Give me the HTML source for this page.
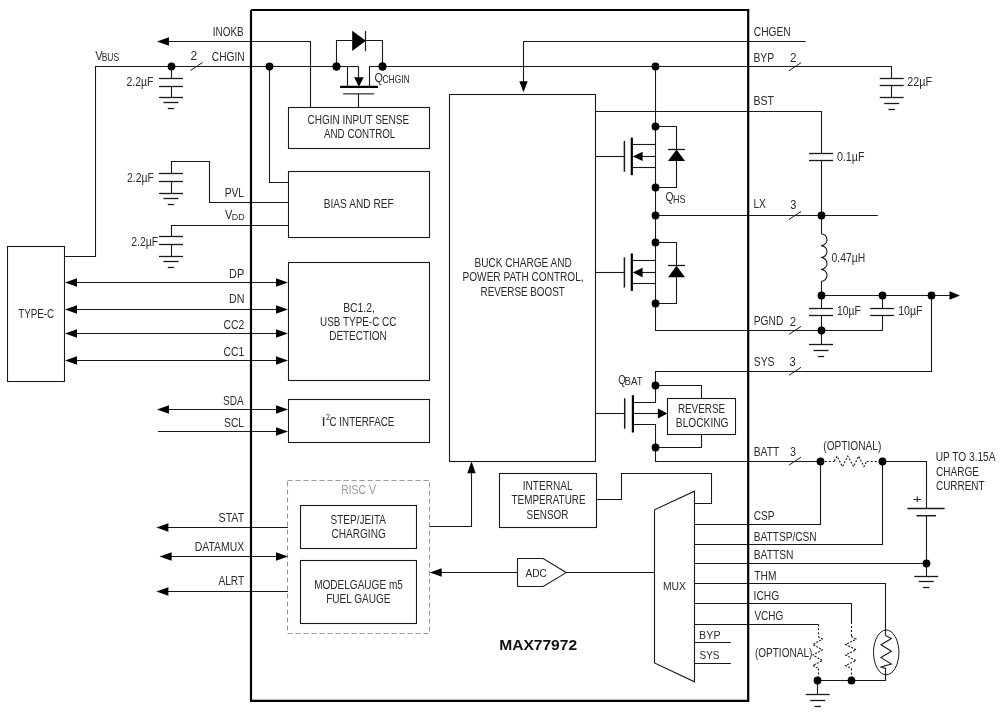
<!DOCTYPE html>
<html><head><meta charset="utf-8"><style>
html,body{margin:0;padding:0;background:#fff;width:1000px;height:713px;overflow:hidden}
svg{display:block;will-change:transform}
text{font-family:"Liberation Sans",sans-serif}
</style></head><body>
<svg width="1000" height="713" viewBox="0 0 1000 713">
<rect width="1000" height="713" fill="#fff"/>
<path d="M251 10 L748.2 10 L748.2 700.8 L251 700.8 L251 10" stroke="#000" stroke-width="2.2" fill="none"/>
<rect x="288.5" y="107.5" width="141" height="41" stroke="#1a1a1a" stroke-width="1.1" fill="none"/>
<rect x="288.5" y="171.5" width="141" height="66" stroke="#1a1a1a" stroke-width="1.1" fill="none"/>
<rect x="288.5" y="262.5" width="141" height="118" stroke="#1a1a1a" stroke-width="1.1" fill="none"/>
<rect x="288.5" y="399.5" width="141" height="43" stroke="#1a1a1a" stroke-width="1.1" fill="none"/>
<rect x="449.5" y="94.5" width="146" height="367" stroke="#1a1a1a" stroke-width="1.1" fill="none"/>
<rect x="667.5" y="398.5" width="68" height="36" stroke="#1a1a1a" stroke-width="1.1" fill="none"/>
<rect x="499.5" y="473.5" width="97" height="54" stroke="#1a1a1a" stroke-width="1.1" fill="none"/>
<rect x="300.5" y="505.5" width="116" height="43" stroke="#1a1a1a" stroke-width="1.1" fill="none"/>
<rect x="300.5" y="560.5" width="116" height="63" stroke="#1a1a1a" stroke-width="1.1" fill="none"/>
<rect x="287.5" y="480.5" width="142" height="153" stroke="#9a9a9a" stroke-width="1.1" fill="none" stroke-dasharray="5 3"/>
<rect x="7.5" y="246.5" width="57" height="135" stroke="#1a1a1a" stroke-width="1.1" fill="none"/>
<path d="M160 41.5 L310.5 41.5 L310.5 107.3" stroke="#1a1a1a" stroke-width="1.1" fill="none"/>
<path d="M157 41.5 L169 37.3 L169 45.7Z" fill="#000"/>
<text x="212.79" y="35.8" font-size="12.6" fill="#2a2a2a" textLength="30.84" lengthAdjust="spacingAndGlyphs">INOKB</text>
<path d="M64.6 256.5 L95.5 256.5 L95.5 66.5 L358.6 66.5" stroke="#1a1a1a" stroke-width="1.1" fill="none"/>
<path d="M369.8 66.5 L655 66.5" stroke="#1a1a1a" stroke-width="1.1" fill="none"/>
<path d="M190.5 70.5 L202.5 62.5" stroke="#1a1a1a" stroke-width="1" fill="none"/>
<text x="190.39" y="60.4" font-size="12.6" fill="#2a2a2a" textLength="6.71" lengthAdjust="spacingAndGlyphs">2</text>
<text x="211.78" y="60.6" font-size="12.6" fill="#2a2a2a" textLength="32.85" lengthAdjust="spacingAndGlyphs">CHGIN</text>
<text x="95.35" y="59.8" font-size="12.6" fill="#2a2a2a" textLength="7.5" lengthAdjust="spacingAndGlyphs">V</text>
<text x="101.7" y="60.6" font-size="10.7" fill="#2a2a2a" textLength="17.49" lengthAdjust="spacingAndGlyphs">BUS</text>
<path d="M171.5 66.5 L171.5 78" stroke="#1a1a1a" stroke-width="1.1" fill="none"/>
<path d="M159 78.5 L183 78.5" stroke="#1a1a1a" stroke-width="1.3" fill="none"/>
<path d="M159 86.5 L183 86.5" stroke="#1a1a1a" stroke-width="1.3" fill="none"/>
<path d="M171.5 86 L171.5 97.2" stroke="#1a1a1a" stroke-width="1.1" fill="none"/>
<path d="M159 97.5 L183 97.5" stroke="#1a1a1a" stroke-width="1.3" fill="none"/>
<path d="M163.5 102.5 L178.5 102.5" stroke="#1a1a1a" stroke-width="1.3" fill="none"/>
<path d="M167.8 108.5 L174.2 108.5" stroke="#1a1a1a" stroke-width="1.3" fill="none"/>
<text x="126.47" y="86" font-size="12.6" fill="#2a2a2a" textLength="26.94" lengthAdjust="spacingAndGlyphs">2.2&#181;F</text>
<path d="M269.5 66.5 L269.5 182.5 L288 182.5" stroke="#1a1a1a" stroke-width="1.1" fill="none"/>
<path d="M171.5 173.5 L171.5 161.5 L209.5 161.5 L209.5 202.5 L288 202.5" stroke="#1a1a1a" stroke-width="1.1" fill="none"/>
<path d="M159 173.5 L183 173.5" stroke="#1a1a1a" stroke-width="1.3" fill="none"/>
<path d="M159 181.5 L183 181.5" stroke="#1a1a1a" stroke-width="1.3" fill="none"/>
<path d="M171.5 181.6 L171.5 193" stroke="#1a1a1a" stroke-width="1.1" fill="none"/>
<path d="M159 193.5 L183 193.5" stroke="#1a1a1a" stroke-width="1.3" fill="none"/>
<path d="M163.5 198.5 L178.5 198.5" stroke="#1a1a1a" stroke-width="1.3" fill="none"/>
<path d="M167.8 204.5 L174.2 204.5" stroke="#1a1a1a" stroke-width="1.3" fill="none"/>
<text x="126.97" y="182.3" font-size="12.6" fill="#2a2a2a" textLength="26.94" lengthAdjust="spacingAndGlyphs">2.2&#181;F</text>
<text x="224.66" y="197" font-size="12.6" fill="#2a2a2a" textLength="19.38" lengthAdjust="spacingAndGlyphs">PVL</text>
<path d="M171.5 236.6 L171.5 225.5 L288 225.5" stroke="#1a1a1a" stroke-width="1.1" fill="none"/>
<path d="M159 236.5 L183 236.5" stroke="#1a1a1a" stroke-width="1.3" fill="none"/>
<path d="M159 244.5 L183 244.5" stroke="#1a1a1a" stroke-width="1.3" fill="none"/>
<path d="M171.5 244.7 L171.5 256" stroke="#1a1a1a" stroke-width="1.1" fill="none"/>
<path d="M159 256.5 L183 256.5" stroke="#1a1a1a" stroke-width="1.3" fill="none"/>
<path d="M163.5 261.5 L178.5 261.5" stroke="#1a1a1a" stroke-width="1.3" fill="none"/>
<path d="M167.8 267.5 L174.2 267.5" stroke="#1a1a1a" stroke-width="1.3" fill="none"/>
<text x="131.27" y="245.5" font-size="12.6" fill="#2a2a2a" textLength="26.94" lengthAdjust="spacingAndGlyphs">2.2&#181;F</text>
<text x="225.05" y="218.65" font-size="12.6" fill="#2a2a2a" textLength="7.4" lengthAdjust="spacingAndGlyphs">V</text>
<text x="231.87" y="219.7" font-size="9.8" fill="#2a2a2a" textLength="12.86" lengthAdjust="spacingAndGlyphs">DD</text>
<path d="M70 282.5 L282 282.5" stroke="#1a1a1a" stroke-width="1.1" fill="none"/>
<path d="M65 282.5 L77 278.3 L77 286.7Z" fill="#000"/>
<path d="M288 282.5 L276 278.3 L276 286.7Z" fill="#000"/>
<text x="229.1" y="277.5" font-size="12.6" fill="#2a2a2a" textLength="15.17" lengthAdjust="spacingAndGlyphs">DP</text>
<path d="M70 309.5 L282 309.5" stroke="#1a1a1a" stroke-width="1.1" fill="none"/>
<path d="M65 309.5 L77 305.3 L77 313.7Z" fill="#000"/>
<path d="M288 309.5 L276 305.3 L276 313.7Z" fill="#000"/>
<text x="229.12" y="303.3" font-size="12.6" fill="#2a2a2a" textLength="15.45" lengthAdjust="spacingAndGlyphs">DN</text>
<path d="M70 333.5 L282 333.5" stroke="#1a1a1a" stroke-width="1.1" fill="none"/>
<path d="M65 333.5 L77 329.3 L77 337.7Z" fill="#000"/>
<path d="M288 333.5 L276 329.3 L276 337.7Z" fill="#000"/>
<text x="223.47" y="328.8" font-size="12.6" fill="#2a2a2a" textLength="20.75" lengthAdjust="spacingAndGlyphs">CC2</text>
<path d="M70 360.5 L282 360.5" stroke="#1a1a1a" stroke-width="1.1" fill="none"/>
<path d="M65 360.5 L77 356.3 L77 364.7Z" fill="#000"/>
<path d="M288 360.5 L276 356.3 L276 364.7Z" fill="#000"/>
<text x="223.47" y="355.9" font-size="12.6" fill="#2a2a2a" textLength="20.73" lengthAdjust="spacingAndGlyphs">CC1</text>
<text x="18.18" y="318" font-size="12.6" fill="#2a2a2a" textLength="35.99" lengthAdjust="spacingAndGlyphs">TYPE-C</text>
<path d="M160 409.5 L282 409.5" stroke="#1a1a1a" stroke-width="1.1" fill="none"/>
<path d="M157 409.5 L169 405.3 L169 413.7Z" fill="#000"/>
<path d="M288 409.5 L276 405.3 L276 413.7Z" fill="#000"/>
<text x="223.04" y="404.6" font-size="12.6" fill="#2a2a2a" textLength="20.68" lengthAdjust="spacingAndGlyphs">SDA</text>
<path d="M158 431.5 L282 431.5" stroke="#1a1a1a" stroke-width="1.1" fill="none"/>
<path d="M288 431.5 L276 427.3 L276 435.7Z" fill="#000"/>
<text x="224.03" y="426.8" font-size="12.6" fill="#2a2a2a" textLength="20.01" lengthAdjust="spacingAndGlyphs">SCL</text>
<path d="M160 527.5 L288 527.5" stroke="#1a1a1a" stroke-width="1.1" fill="none"/>
<path d="M156.4 527.5 L168.4 523.3 L168.4 531.7Z" fill="#000"/>
<text x="218.54" y="522.2" font-size="12.6" fill="#2a2a2a" textLength="25.69" lengthAdjust="spacingAndGlyphs">STAT</text>
<path d="M163 556.5 L282 556.5" stroke="#1a1a1a" stroke-width="1.1" fill="none"/>
<path d="M159.6 556.5 L171.6 552.3 L171.6 560.7Z" fill="#000"/>
<path d="M288 556.5 L276 552.3 L276 560.7Z" fill="#000"/>
<text x="194.77" y="551" font-size="12.6" fill="#2a2a2a" textLength="49.44" lengthAdjust="spacingAndGlyphs">DATAMUX</text>
<path d="M160 591.5 L288 591.5" stroke="#1a1a1a" stroke-width="1.1" fill="none"/>
<path d="M156.4 591.5 L168.4 587.3 L168.4 595.7Z" fill="#000"/>
<text x="218.38" y="584.8" font-size="12.6" fill="#2a2a2a" textLength="25.85" lengthAdjust="spacingAndGlyphs">ALRT</text>
<text x="307.49" y="123.7" font-size="12.6" fill="#2a2a2a" textLength="101.64" lengthAdjust="spacingAndGlyphs">CHGIN INPUT SENSE</text>
<text x="323.98" y="138.4" font-size="12.6" fill="#2a2a2a" textLength="71.34" lengthAdjust="spacingAndGlyphs">AND CONTROL</text>
<text x="323.77" y="207.6" font-size="12.6" fill="#2a2a2a" textLength="69.93" lengthAdjust="spacingAndGlyphs">BIAS AND REF</text>
<text x="343.15" y="311.6" font-size="12.6" fill="#2a2a2a" textLength="31.79" lengthAdjust="spacingAndGlyphs">BC1.2,</text>
<text x="320.04" y="325.5" font-size="12.6" fill="#2a2a2a" textLength="76.34" lengthAdjust="spacingAndGlyphs">USB TYPE-C CC</text>
<text x="329.18" y="339.7" font-size="12.6" fill="#2a2a2a" textLength="57.63" lengthAdjust="spacingAndGlyphs">DETECTION</text>
<text x="321.41" y="425.6" font-size="12.6" fill="#2a2a2a" textLength="4.17" lengthAdjust="spacingAndGlyphs">I</text>
<text x="326.05" y="419.8" font-size="8.2" fill="#2a2a2a" textLength="3.91" lengthAdjust="spacingAndGlyphs">2</text>
<text x="329.51" y="425.6" font-size="12.6" fill="#2a2a2a" textLength="64.91" lengthAdjust="spacingAndGlyphs">C INTERFACE</text>
<text x="474.48" y="266.5" font-size="12.6" fill="#2a2a2a" textLength="97.2" lengthAdjust="spacingAndGlyphs">BUCK CHARGE AND</text>
<text x="462.58" y="281.3" font-size="12.6" fill="#2a2a2a" textLength="121.01" lengthAdjust="spacingAndGlyphs">POWER PATH CONTROL,</text>
<text x="480.59" y="295.5" font-size="12.6" fill="#2a2a2a" textLength="84.13" lengthAdjust="spacingAndGlyphs">REVERSE BOOST</text>
<text x="341.15" y="493.7" font-size="12.6" fill="#9a9a9a" textLength="34.7" lengthAdjust="spacingAndGlyphs">RISC V</text>
<text x="330.55" y="523.8" font-size="12.6" fill="#2a2a2a" textLength="55.47" lengthAdjust="spacingAndGlyphs">STEP/JEITA</text>
<text x="331.49" y="538" font-size="12.6" fill="#2a2a2a" textLength="54.26" lengthAdjust="spacingAndGlyphs">CHARGING</text>
<text x="314.18" y="589.4" font-size="12.6" fill="#2a2a2a" textLength="88.64" lengthAdjust="spacingAndGlyphs">MODELGAUGE m5</text>
<text x="326.18" y="602.6" font-size="12.6" fill="#2a2a2a" textLength="64.25" lengthAdjust="spacingAndGlyphs">FUEL GAUGE</text>
<path d="M429.7 526.5 L471.5 526.5 L471.5 467" stroke="#1a1a1a" stroke-width="1.1" fill="none"/>
<path d="M471.5 461.2 L467.3 473.2 L475.7 473.2Z" fill="#000"/>
<path d="M436 572.5 L517.3 572.5" stroke="#1a1a1a" stroke-width="1.1" fill="none"/>
<path d="M429.7 572.5 L441.7 568.3 L441.7 576.7Z" fill="#000"/>
<path d="M517.3 558.5 L543.2 558.5 L566.2 572.6 L543.2 586.5 L517.5 586.5 L517.5 558.6" stroke="#1a1a1a" stroke-width="1.1" fill="none"/>
<path d="M566.2 572.5 L654.6 572.5" stroke="#1a1a1a" stroke-width="1.1" fill="none"/>
<text x="525.38" y="577.1" font-size="11.5" fill="#2a2a2a" textLength="21.41" lengthAdjust="spacingAndGlyphs">ADC</text>
<path d="M654.6 509.7 L694.5 491.2 L694.5 681.8 L654.5 663 L654.5 509.7" stroke="#1a1a1a" stroke-width="1.1" fill="none"/>
<text x="662.95" y="589.5" font-size="11.5" fill="#2a2a2a" textLength="23.07" lengthAdjust="spacingAndGlyphs">MUX</text>
<text x="522.67" y="489.7" font-size="12.6" fill="#2a2a2a" textLength="49.87" lengthAdjust="spacingAndGlyphs">INTERNAL</text>
<text x="511.58" y="503.6" font-size="12.6" fill="#2a2a2a" textLength="73.94" lengthAdjust="spacingAndGlyphs">TEMPERATURE</text>
<text x="526.55" y="518.5" font-size="12.6" fill="#2a2a2a" textLength="41.91" lengthAdjust="spacingAndGlyphs">SENSOR</text>
<path d="M596 499.5 L621.5 499.5 L621.5 473.5 L711.5 473.5 L711.5 503.5 L694 503.5" stroke="#1a1a1a" stroke-width="1.1" fill="none"/>
<path d="M694 642.5 L730.9 642.5" stroke="#1a1a1a" stroke-width="1.1" fill="none"/>
<path d="M694 663.5 L730.9 663.5" stroke="#1a1a1a" stroke-width="1.1" fill="none"/>
<text x="699.12" y="638.5" font-size="11.5" fill="#2a2a2a" textLength="21.44" lengthAdjust="spacingAndGlyphs">BYP</text>
<text x="699.55" y="658.7" font-size="11.5" fill="#2a2a2a" textLength="19.91" lengthAdjust="spacingAndGlyphs">SYS</text>
<text x="499.16" y="649.6" font-size="15.4" fill="#111" textLength="77.97" lengthAdjust="spacingAndGlyphs" font-weight="bold">MAX77972</text>
<path d="M336.5 66.5 L336.5 40.5 L352.2 40.5" stroke="#1a1a1a" stroke-width="1.1" fill="none"/>
<path d="M365.9 40.5 L382.5 40.5 L382.5 66.5" stroke="#1a1a1a" stroke-width="1.1" fill="none"/>
<path d="M352.2 30.7 L365.9 40.75 L352.2 50.9Z" fill="#000"/>
<path d="M365.5 31 L365.5 51.2" stroke="#1a1a1a" stroke-width="1.2" fill="none"/>
<path d="M336.2 66.5 L358.6 66.5" stroke="#1a1a1a" stroke-width="1.1" fill="none"/>
<path d="M347.5 66.5 L347.5 86.7" stroke="#1a1a1a" stroke-width="1.1" fill="none"/>
<path d="M358.5 66.5 L358.5 78" stroke="#1a1a1a" stroke-width="1.1" fill="none"/>
<path d="M354.1 77.2 L363.7 77.2 L358.9 86.7Z" fill="#000"/>
<path d="M369.5 86.7 L369.5 66.5 L382 66.5" stroke="#1a1a1a" stroke-width="1.1" fill="none"/>
<path d="M340.1 86.9 L378 86.9" stroke="#000" stroke-width="2.2" fill="none"/>
<path d="M343.2 93.8 L374 93.8" stroke="#555" stroke-width="1.5" fill="none"/>
<path d="M358.5 93.8 L358.5 107.3" stroke="#1a1a1a" stroke-width="1.1" fill="none"/>
<text x="374.49" y="81.7" font-size="12.6" fill="#2a2a2a" textLength="8.43" lengthAdjust="spacingAndGlyphs">Q</text>
<text x="382.57" y="82.6" font-size="10.8" fill="#2a2a2a" textLength="27.01" lengthAdjust="spacingAndGlyphs">CHGIN</text>
<path d="M523 41.5 L805.6 41.5" stroke="#1a1a1a" stroke-width="1.1" fill="none"/>
<path d="M523.5 41.5 L523.5 83" stroke="#1a1a1a" stroke-width="1.1" fill="none"/>
<path d="M523.5 92.3 L519.3 81.3 L527.7 81.3Z" fill="#000"/>
<text x="753.78" y="35.9" font-size="12.6" fill="#2a2a2a" textLength="36.85" lengthAdjust="spacingAndGlyphs">CHGEN</text>
<path d="M655 66.5 L891.5 66.5 L891.5 78" stroke="#1a1a1a" stroke-width="1.1" fill="none"/>
<path d="M789 70.7 L801 62.7" stroke="#1a1a1a" stroke-width="1" fill="none"/>
<text x="789.91" y="62.3" font-size="12.6" fill="#2a2a2a" textLength="6.47" lengthAdjust="spacingAndGlyphs">2</text>
<text x="753.45" y="62.3" font-size="12.6" fill="#2a2a2a" textLength="20.8" lengthAdjust="spacingAndGlyphs">BYP</text>
<path d="M879.7 78.5 L903.7 78.5" stroke="#1a1a1a" stroke-width="1.3" fill="none"/>
<path d="M879.7 85.5 L903.7 85.5" stroke="#1a1a1a" stroke-width="1.3" fill="none"/>
<path d="M891.5 85.6 L891.5 97.6" stroke="#1a1a1a" stroke-width="1.1" fill="none"/>
<path d="M879.7 97.5 L903.7 97.5" stroke="#1a1a1a" stroke-width="1.3" fill="none"/>
<path d="M884.2 103.5 L899.2 103.5" stroke="#1a1a1a" stroke-width="1.3" fill="none"/>
<path d="M888.5 109.5 L894.9 109.5" stroke="#1a1a1a" stroke-width="1.3" fill="none"/>
<text x="907.26" y="85.8" font-size="12.6" fill="#2a2a2a" textLength="24.88" lengthAdjust="spacingAndGlyphs">22&#181;F</text>
<path d="M595.7 111.5 L821.5 111.5 L821.5 153.5" stroke="#1a1a1a" stroke-width="1.1" fill="none"/>
<text x="753.44" y="104.7" font-size="12.6" fill="#2a2a2a" textLength="20.51" lengthAdjust="spacingAndGlyphs">BST</text>
<path d="M809 153.5 L833 153.5" stroke="#1a1a1a" stroke-width="1.3" fill="none"/>
<path d="M809 160.5 L833 160.5" stroke="#1a1a1a" stroke-width="1.3" fill="none"/>
<path d="M821.5 160.8 L821.5 233.7" stroke="#1a1a1a" stroke-width="1.1" fill="none"/>
<text x="836.88" y="161.3" font-size="12.6" fill="#2a2a2a" textLength="27.55" lengthAdjust="spacingAndGlyphs">0.1&#181;F</text>
<path d="M655.5 66.5 L655.5 330.5 L748 330.5" stroke="#1a1a1a" stroke-width="1.1" fill="none"/>
<path d="M655 126.5 L676.5 126.5 L676.5 149.4" stroke="#1a1a1a" stroke-width="1.1" fill="none"/>
<path d="M667.9 149.5 L685.1 149.5" stroke="#1a1a1a" stroke-width="1.3" fill="none"/>
<path d="M676.5 149.4 L668 161 L685 161Z" fill="#000"/>
<path d="M676.5 161 L676.5 187.5 L655 187.5" stroke="#1a1a1a" stroke-width="1.1" fill="none"/>
<path d="M595.7 156.5 L624.4 156.5" stroke="#1a1a1a" stroke-width="1.1" fill="none"/>
<path d="M624.4 141 L624.4 171.8" stroke="#1a1a1a" stroke-width="1.5" fill="none"/>
<path d="M631.8 137.6 L631.8 175.1" stroke="#000" stroke-width="2.2" fill="none"/>
<path d="M631.8 144.5 L655 144.5" stroke="#1a1a1a" stroke-width="1.1" fill="none"/>
<path d="M642 156.5 L655 156.5" stroke="#1a1a1a" stroke-width="1.1" fill="none"/>
<path d="M632.8 156.4 L642.6 151.7 L642.6 161.1Z" fill="#000"/>
<path d="M631.8 167.5 L655 167.5" stroke="#1a1a1a" stroke-width="1.1" fill="none"/>
<text x="665.51" y="201.4" font-size="12.6" fill="#2a2a2a" textLength="7.98" lengthAdjust="spacingAndGlyphs">Q</text>
<text x="673.06" y="202.6" font-size="10.2" fill="#2a2a2a" textLength="12.56" lengthAdjust="spacingAndGlyphs">HS</text>
<path d="M655 215.5 L877.9 215.5" stroke="#1a1a1a" stroke-width="1.1" fill="none"/>
<path d="M789 219.5 L801 211.5" stroke="#1a1a1a" stroke-width="1" fill="none"/>
<text x="790.18" y="209.3" font-size="12.6" fill="#2a2a2a" textLength="6.1" lengthAdjust="spacingAndGlyphs">3</text>
<text x="753.47" y="207.8" font-size="12.6" fill="#2a2a2a" textLength="12.34" lengthAdjust="spacingAndGlyphs">LX</text>
<path d="M655 242.5 L676.5 242.5 L676.5 265.7" stroke="#1a1a1a" stroke-width="1.1" fill="none"/>
<path d="M667.9 265.5 L685.1 265.5" stroke="#1a1a1a" stroke-width="1.3" fill="none"/>
<path d="M676.5 265.7 L668 277.3 L685 277.3Z" fill="#000"/>
<path d="M676.5 277.3 L676.5 303.5 L655 303.5" stroke="#1a1a1a" stroke-width="1.1" fill="none"/>
<path d="M595.7 272.5 L624.4 272.5" stroke="#1a1a1a" stroke-width="1.1" fill="none"/>
<path d="M624.4 257.3 L624.4 287.6" stroke="#1a1a1a" stroke-width="1.5" fill="none"/>
<path d="M631.8 253.5 L631.8 290.9" stroke="#000" stroke-width="2.2" fill="none"/>
<path d="M631.8 260.5 L655 260.5" stroke="#1a1a1a" stroke-width="1.1" fill="none"/>
<path d="M642 272.5 L655 272.5" stroke="#1a1a1a" stroke-width="1.1" fill="none"/>
<path d="M632.8 272.5 L642.6 267.8 L642.6 277.2Z" fill="#000"/>
<path d="M631.8 283.5 L655 283.5" stroke="#1a1a1a" stroke-width="1.1" fill="none"/>
<path d="M821 233.7 A6 5.95 0 0 1 821 245.6 A6 5.95 0 0 1 821 257.5 A6 5.95 0 0 1 821 269.4 A6 5.95 0 0 1 821 281.3" stroke="#1a1a1a" stroke-width="1.1" fill="none"/>
<path d="M821.5 281.4 L821.5 295.5 L952 295.5" stroke="#1a1a1a" stroke-width="1.1" fill="none"/>
<path d="M960 295.5 L949.5 291.3 L949.5 299.7Z" fill="#000"/>
<text x="831.6" y="261.8" font-size="12.6" fill="#2a2a2a" textLength="33.55" lengthAdjust="spacingAndGlyphs">0.47&#181;H</text>
<path d="M821.5 295.2 L821.5 308.2" stroke="#1a1a1a" stroke-width="1.1" fill="none"/>
<path d="M809 308.5 L833 308.5" stroke="#1a1a1a" stroke-width="1.3" fill="none"/>
<path d="M809 315.5 L833 315.5" stroke="#1a1a1a" stroke-width="1.3" fill="none"/>
<path d="M882.5 295.2 L882.5 308.2" stroke="#1a1a1a" stroke-width="1.1" fill="none"/>
<path d="M870.2 308.5 L894.2 308.5" stroke="#1a1a1a" stroke-width="1.3" fill="none"/>
<path d="M870.2 315.5 L894.2 315.5" stroke="#1a1a1a" stroke-width="1.3" fill="none"/>
<path d="M821.5 315.5 L821.5 344.7" stroke="#1a1a1a" stroke-width="1.1" fill="none"/>
<path d="M882.5 315.5 L882.5 330.5 L748 330.5" stroke="#1a1a1a" stroke-width="1.1" fill="none"/>
<path d="M809 344.5 L833 344.5" stroke="#1a1a1a" stroke-width="1.3" fill="none"/>
<path d="M813.5 350.5 L828.5 350.5" stroke="#1a1a1a" stroke-width="1.3" fill="none"/>
<path d="M817.8 356.5 L824.2 356.5" stroke="#1a1a1a" stroke-width="1.3" fill="none"/>
<text x="837.01" y="314.7" font-size="12.6" fill="#2a2a2a" textLength="23.8" lengthAdjust="spacingAndGlyphs">10&#181;F</text>
<text x="898.19" y="314.7" font-size="12.6" fill="#2a2a2a" textLength="24.33" lengthAdjust="spacingAndGlyphs">10&#181;F</text>
<text x="753.76" y="324.6" font-size="12.6" fill="#2a2a2a" textLength="29.53" lengthAdjust="spacingAndGlyphs">PGND</text>
<text x="789.83" y="325.8" font-size="12.6" fill="#2a2a2a" textLength="6.35" lengthAdjust="spacingAndGlyphs">2</text>
<path d="M789 334.4 L801 326.4" stroke="#1a1a1a" stroke-width="1" fill="none"/>
<path d="M655 371.5 L931.5 371.5 L931.5 295.2" stroke="#1a1a1a" stroke-width="1.1" fill="none"/>
<text x="753.73" y="365.6" font-size="12.6" fill="#2a2a2a" textLength="20.75" lengthAdjust="spacingAndGlyphs">SYS</text>
<text x="789.57" y="365.8" font-size="12.6" fill="#2a2a2a" textLength="6.22" lengthAdjust="spacingAndGlyphs">3</text>
<path d="M789 375.3 L801 367.3" stroke="#1a1a1a" stroke-width="1" fill="none"/>
<path d="M655 330.4 L655 330.4" stroke="#1a1a1a" stroke-width="1.1" fill="none"/>
<path d="M655.5 371.3 L655.5 402.5 L632.9 402.5" stroke="#1a1a1a" stroke-width="1.1" fill="none"/>
<path d="M655 385.5 L701.5 385.5 L701.5 398.5" stroke="#1a1a1a" stroke-width="1.1" fill="none"/>
<path d="M595.7 413.5 L624.7 413.5" stroke="#1a1a1a" stroke-width="1.1" fill="none"/>
<path d="M624.7 398.3 L624.7 428.7" stroke="#1a1a1a" stroke-width="1.5" fill="none"/>
<path d="M632.9 395.2 L632.9 432.5" stroke="#000" stroke-width="2.2" fill="none"/>
<path d="M632.9 413.5 L658 413.5" stroke="#1a1a1a" stroke-width="1.1" fill="none"/>
<path d="M667.4 413.5 L657.9 408.5 L657.9 418.5Z" fill="#000"/>
<path d="M632.9 424.5 L655.5 424.5 L655.5 461.5 L748 461.5" stroke="#1a1a1a" stroke-width="1.1" fill="none"/>
<path d="M701.5 434.3 L701.5 447.5 L655 447.5" stroke="#1a1a1a" stroke-width="1.1" fill="none"/>
<text x="618.35" y="383.6" font-size="12.6" fill="#2a2a2a" textLength="7.41" lengthAdjust="spacingAndGlyphs">Q</text>
<text x="624.43" y="384.8" font-size="11" fill="#2a2a2a" textLength="18.18" lengthAdjust="spacingAndGlyphs">BAT</text>
<text x="677.89" y="412.8" font-size="12.6" fill="#2a2a2a" textLength="47.24" lengthAdjust="spacingAndGlyphs">REVERSE</text>
<text x="675.86" y="426.7" font-size="12.6" fill="#2a2a2a" textLength="52.7" lengthAdjust="spacingAndGlyphs">BLOCKING</text>
<path d="M748 461.5 L820.8 461.5" stroke="#1a1a1a" stroke-width="1.1" fill="none"/>
<path d="M820.8 461.5 L834.3 461.5" stroke="#1a1a1a" stroke-width="1.1" fill="none" stroke-dasharray="2 2"/>
<path d="M834.3 461 L837 456.2 L842.4 466.5 L847.8 456.2 L853.5 466.5 L858.6 456.2 L864 466.5 L866.7 461" stroke="#1a1a1a" stroke-width="1.1" fill="none" stroke-dasharray="2 1.5"/>
<path d="M866.7 461.5 L882.5 461.5" stroke="#1a1a1a" stroke-width="1.1" fill="none" stroke-dasharray="2 2"/>
<path d="M882.5 461.5 L926.5 461.5 L926.5 508.6" stroke="#1a1a1a" stroke-width="1.1" fill="none"/>
<text x="823.37" y="449.9" font-size="12.6" fill="#2a2a2a" textLength="57.96" lengthAdjust="spacingAndGlyphs">(OPTIONAL)</text>
<text x="753.68" y="455.8" font-size="12.6" fill="#2a2a2a" textLength="25.65" lengthAdjust="spacingAndGlyphs">BATT</text>
<text x="789.99" y="455.8" font-size="12.6" fill="#2a2a2a" textLength="5.98" lengthAdjust="spacingAndGlyphs">3</text>
<path d="M789 465.1 L801 457.1" stroke="#1a1a1a" stroke-width="1" fill="none"/>
<text x="935.72" y="460.6" font-size="12.6" fill="#2a2a2a" textLength="59.8" lengthAdjust="spacingAndGlyphs">UP TO 3.15A</text>
<text x="935.99" y="475.9" font-size="12.6" fill="#2a2a2a" textLength="42.94" lengthAdjust="spacingAndGlyphs">CHARGE</text>
<text x="936" y="489.8" font-size="12.6" fill="#2a2a2a" textLength="48.53" lengthAdjust="spacingAndGlyphs">CURRENT</text>
<path d="M907.4 508.6 L944.6 508.6" stroke="#1a1a1a" stroke-width="1.5" fill="none"/>
<path d="M916.4 515.7 L935.9 515.7" stroke="#1a1a1a" stroke-width="1.5" fill="none"/>
<text x="912.75" y="503" font-size="11" fill="#2a2a2a" textLength="9.02" lengthAdjust="spacingAndGlyphs">+</text>
<path d="M926.5 515.7 L926.5 576.2" stroke="#1a1a1a" stroke-width="1.1" fill="none"/>
<path d="M914.2 576.5 L938.2 576.5" stroke="#1a1a1a" stroke-width="1.3" fill="none"/>
<path d="M918.7 581.5 L933.7 581.5" stroke="#1a1a1a" stroke-width="1.3" fill="none"/>
<path d="M923 587.5 L929.4 587.5" stroke="#1a1a1a" stroke-width="1.3" fill="none"/>
<path d="M694 524.5 L820.5 524.5 L820.5 461.1" stroke="#1a1a1a" stroke-width="1.1" fill="none"/>
<text x="753.69" y="520.1" font-size="12.6" fill="#2a2a2a" textLength="20.85" lengthAdjust="spacingAndGlyphs">CSP</text>
<path d="M694 544.5 L882.5 544.5 L882.5 461.1" stroke="#1a1a1a" stroke-width="1.1" fill="none"/>
<text x="753.68" y="540.5" font-size="12.6" fill="#2a2a2a" textLength="63.04" lengthAdjust="spacingAndGlyphs">BATTSP/CSN</text>
<path d="M694 563.5 L926.2 563.5" stroke="#1a1a1a" stroke-width="1.1" fill="none"/>
<text x="753.67" y="558.8" font-size="12.6" fill="#2a2a2a" textLength="39.85" lengthAdjust="spacingAndGlyphs">BATTSN</text>
<path d="M694 583.5 L885.5 583.5 L885.5 635.7" stroke="#1a1a1a" stroke-width="1.1" fill="none"/>
<text x="754.27" y="579.8" font-size="12.6" fill="#2a2a2a" textLength="22.17" lengthAdjust="spacingAndGlyphs">THM</text>
<path d="M694 603.5 L851.5 603.5 L851.5 621.9" stroke="#1a1a1a" stroke-width="1.1" fill="none"/>
<text x="753.55" y="600.2" font-size="12.6" fill="#2a2a2a" textLength="25.61" lengthAdjust="spacingAndGlyphs">ICHG</text>
<path d="M694 624.5 L818.1 624.5" stroke="#1a1a1a" stroke-width="1.1" fill="none"/>
<text x="754.46" y="619.5" font-size="12.6" fill="#2a2a2a" textLength="28.89" lengthAdjust="spacingAndGlyphs">VCHG</text>
<path d="M851.5 621.9 L851.5 636.6" stroke="#1a1a1a" stroke-width="1.1" fill="none" stroke-dasharray="2 2"/>
<path d="M818.5 624.2 L818.5 636.6" stroke="#1a1a1a" stroke-width="1.1" fill="none" stroke-dasharray="2 2"/>
<path d="M818.1 636.6 L822.4 639.1 L812.9 644.5 L822.4 649.8 L812.9 655 L822.4 660.5 L812.9 665.5 L818.1 668.4" stroke="#1a1a1a" stroke-width="1.1" fill="none" stroke-dasharray="2 1.3"/>
<path d="M818.5 668.4 L818.5 680.5" stroke="#1a1a1a" stroke-width="1.1" fill="none" stroke-dasharray="2 2"/>
<path d="M851.4 636.6 L856 639.1 L845.7 644.5 L856 649.8 L845.7 655 L856 660.5 L845.7 665.5 L851.4 668.4" stroke="#1a1a1a" stroke-width="1.1" fill="none" stroke-dasharray="2 1.3"/>
<path d="M851.5 668.4 L851.5 680.5" stroke="#1a1a1a" stroke-width="1.1" fill="none" stroke-dasharray="2 2"/>
<text x="754.88" y="656.9" font-size="12.6" fill="#2a2a2a" textLength="57.44" lengthAdjust="spacingAndGlyphs">(OPTIONAL)</text>
<ellipse cx="886.2" cy="652.4" rx="12.7" ry="22.4" stroke="#1a1a1a" stroke-width="1" fill="none"/>
<path d="M885.9 635.7 L891.4 638.5 L881 644.8 L891.4 651.2 L881 657.6 L891.4 664 L881 667 L885.5 668.4 L885.5 680.5 L817.5 680.5 L817.5 694.8" stroke="#1a1a1a" stroke-width="1.1" fill="none"/>
<path d="M805.7 694.5 L829.7 694.5" stroke="#1a1a1a" stroke-width="1.3" fill="none"/>
<path d="M810.2 700.5 L825.2 700.5" stroke="#1a1a1a" stroke-width="1.3" fill="none"/>
<path d="M814.5 706.5 L820.9 706.5" stroke="#1a1a1a" stroke-width="1.3" fill="none"/>
<circle cx="171.5" cy="66.5" r="3.9" fill="#000"/>
<circle cx="269.5" cy="66.5" r="3.9" fill="#000"/>
<circle cx="336.5" cy="66.5" r="3.9" fill="#000"/>
<circle cx="382.5" cy="66.5" r="3.9" fill="#000"/>
<circle cx="336.5" cy="66.5" r="3.9" fill="#000"/>
<circle cx="382.5" cy="66.5" r="3.9" fill="#000"/>
<circle cx="655.5" cy="66.5" r="3.9" fill="#000"/>
<circle cx="655.5" cy="126.5" r="3.9" fill="#000"/>
<circle cx="655.5" cy="187.5" r="3.9" fill="#000"/>
<circle cx="655.5" cy="215.5" r="3.9" fill="#000"/>
<circle cx="821.5" cy="215.5" r="3.9" fill="#000"/>
<circle cx="655.5" cy="242.5" r="3.9" fill="#000"/>
<circle cx="655.5" cy="303.5" r="3.9" fill="#000"/>
<circle cx="821.5" cy="295.5" r="3.9" fill="#000"/>
<circle cx="882.5" cy="295.5" r="3.9" fill="#000"/>
<circle cx="931.5" cy="295.5" r="3.9" fill="#000"/>
<circle cx="821.5" cy="330.5" r="3.9" fill="#000"/>
<circle cx="655.5" cy="385.5" r="3.9" fill="#000"/>
<circle cx="655.5" cy="447.5" r="3.9" fill="#000"/>
<circle cx="820.5" cy="461.5" r="3.9" fill="#000"/>
<circle cx="882.5" cy="461.5" r="3.9" fill="#000"/>
<circle cx="926.5" cy="563.5" r="3.9" fill="#000"/>
<circle cx="817.5" cy="680.5" r="3.9" fill="#000"/>
<circle cx="851.5" cy="680.5" r="3.9" fill="#000"/>
</svg>
</body></html>
